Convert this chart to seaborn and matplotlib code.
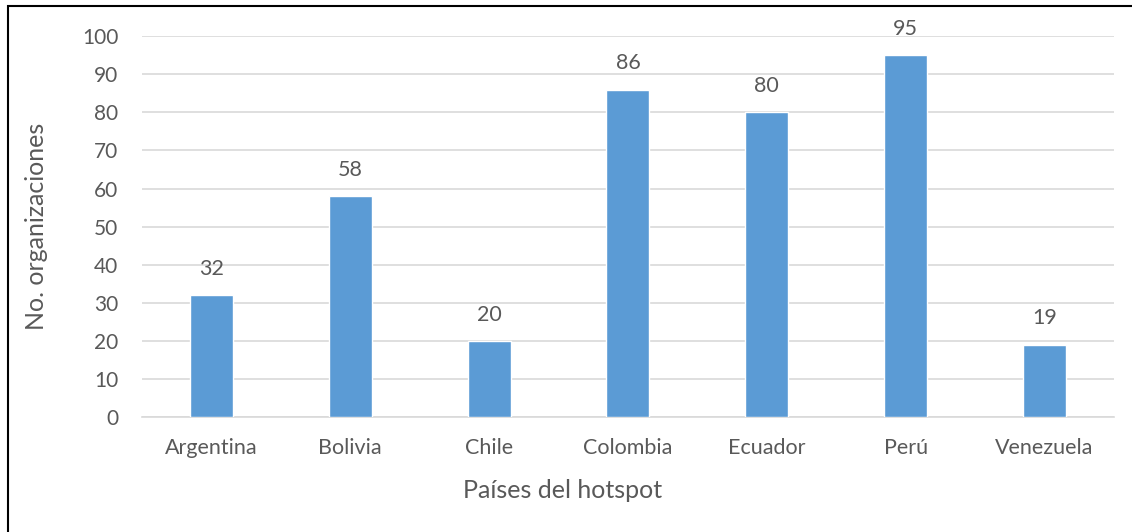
import matplotlib
matplotlib.use("Agg")
import matplotlib.pyplot as plt
import seaborn as sns
import pandas as pd
from matplotlib.patches import Rectangle

# Datos del gráfico
paises = ["Argentina", "Bolivia", "Chile", "Colombia", "Ecuador", "Perú", "Venezuela"]
organizaciones = [32, 58, 20, 86, 80, 95, 19]

df = pd.DataFrame({"pais": paises, "n": organizaciones})

sns.set_style("white")
plt.rcParams["font.family"] = ["Lato", "DejaVu Sans"]

text_color = "#595959"
bar_color = "#5B9BD5"

fig = plt.figure(figsize=(11.32, 5.32), dpi=100)
ax = fig.add_axes([0.1254, 0.216, 0.8586, 0.716])

sns.barplot(data=df, x="pais", y="n", color=bar_color, width=0.31,
            saturation=1, ax=ax, zorder=3)

ax.set_ylim(0, 100)
ax.set_xlim(-0.5, 6.5)
ax.set_yticks(range(0, 101, 10))
ax.yaxis.grid(True, color="#D9D9D9", linewidth=1.2, zorder=0)
ax.set_axisbelow(True)

for side in ["top", "right", "left"]:
    ax.spines[side].set_visible(False)
ax.spines["bottom"].set_color("#D9D9D9")
ax.spines["bottom"].set_linewidth(1.2)

ax.tick_params(axis="y", length=0, labelsize=15, colors=text_color, pad=17)
ax.tick_params(axis="x", length=0, labelsize=15.5, colors=text_color, pad=15)

for i, v in enumerate(organizaciones):
    ax.annotate(str(v), (i, v), xytext=(0, 19), textcoords="offset points",
                ha="center", va="center", fontsize=15.5, color=text_color)

ax.set_xlabel("Países del hotspot", fontsize=18, color=text_color)
ax.set_ylabel("No. organizaciones", fontsize=18, color=text_color)
ax.xaxis.set_label_coords(0.433, -0.162)
ax.yaxis.set_label_coords(-0.097, 0.5)

# borde del gráfico
fig.patches.append(Rectangle((8 / 1132, -0.1), 1.2, (526 / 532) + 0.1,
                             transform=fig.transFigure, fill=False,
                             edgecolor="black", linewidth=1.5))

fig.savefig("out.png", dpi=100)
